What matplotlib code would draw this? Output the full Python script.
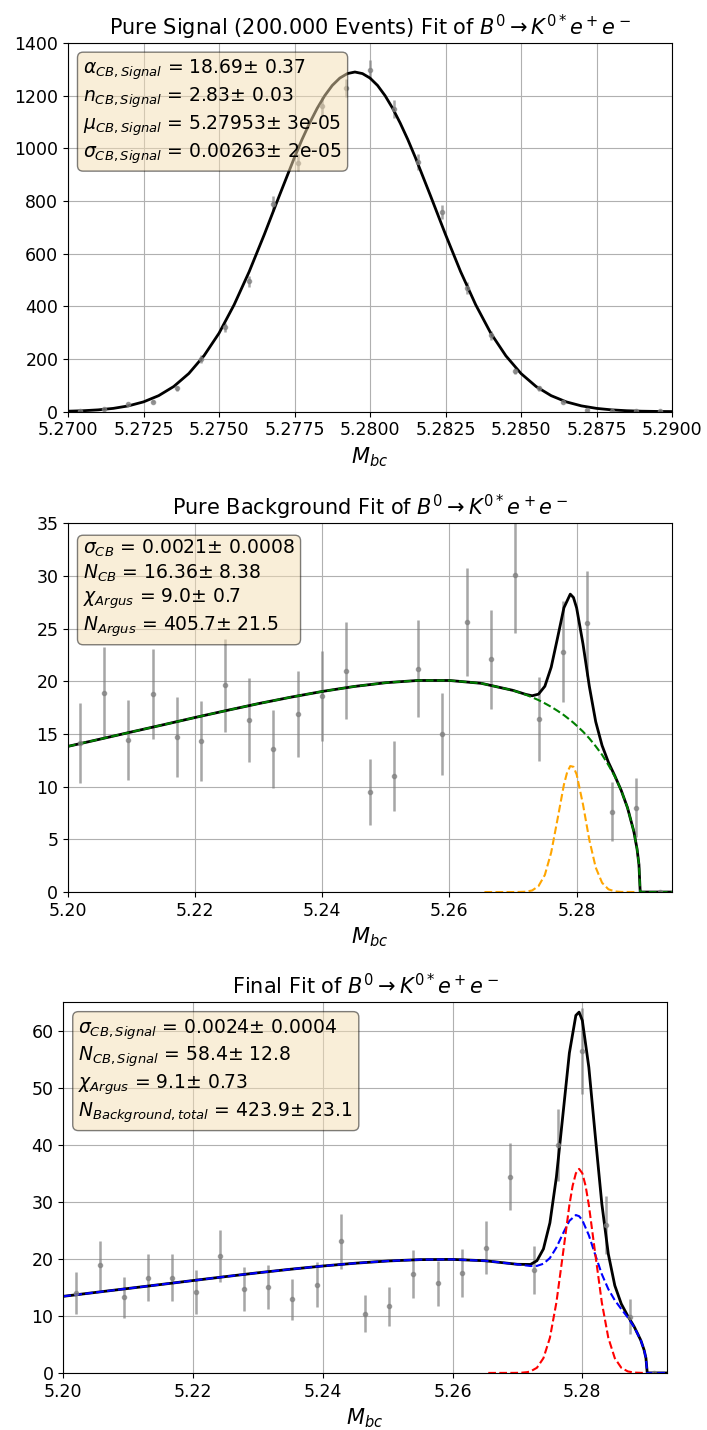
import matplotlib

matplotlib.use("Agg")
import matplotlib.pyplot as plt
from matplotlib.ticker import MultipleLocator

# ---- Panel 1: pure signal ----
sig_x = [5.2704, 5.2712, 5.2720, 5.2728, 5.2736, 5.2744, 5.2752, 5.2760, 5.2768,
         5.2776, 5.2784, 5.2792, 5.2800, 5.2808, 5.2816, 5.2824, 5.2832, 5.2840,
         5.2848, 5.2856, 5.2864, 5.2872, 5.2880, 5.2888, 5.2896]
sig_y = [4, 9, 28, 38, 89, 200, 320, 495, 790, 946, 1162, 1230, 1298, 1150, 949,
         758, 470, 290, 155, 89, 38, 6, 4, 4, 2]
sig_err = [2.0, 3.0, 5.3, 6.2, 9.4, 14.1, 17.9, 22.2, 28.1, 30.8, 34.1, 35.1, 36.0,
           33.9, 30.8, 27.5, 21.7, 17.0, 12.4, 9.4, 6.2, 2.4, 2.0, 2.0, 1.4]

sig_fit_x = [5.2700, 5.2705, 5.2710, 5.2715, 5.2720, 5.2725, 5.2730, 5.2735, 5.2740,
             5.2745, 5.2750, 5.2755, 5.2760, 5.2765, 5.2770, 5.2775, 5.27775, 5.2780,
             5.27825, 5.2785, 5.27875, 5.2790, 5.27925, 5.2795, 5.27975, 5.2800,
             5.28025, 5.2805, 5.28075, 5.2810, 5.28125, 5.2815, 5.2820, 5.2825,
             5.2830, 5.2835, 5.2840, 5.2845, 5.2850, 5.2855, 5.2860, 5.2865, 5.2870,
             5.2875, 5.2880, 5.2885, 5.2890, 5.2895, 5.2900]
sig_fit_y = [1.9, 3.7, 7.0, 12.6, 22.1, 37.3, 60.8, 95.6, 145, 212, 298, 406, 532,
             673, 821, 966, 1034, 1096, 1152, 1200, 1239, 1267, 1284, 1290, 1284,
             1267, 1239, 1200, 1152, 1096, 1034, 966, 821, 673, 532, 406, 298, 212,
             145, 95.6, 60.8, 37.3, 22.1, 12.6, 7.0, 3.7, 1.9, 1.0, 0.5]

sig_text = [r"$\alpha_{CB,Signal}$ = 18.69$\pm$ 0.37",
            r"$n_{CB,Signal}$ = 2.83$\pm$ 0.03",
            r"$\mu_{CB,Signal}$ = 5.27953$\pm$ 3e-05",
            r"$\sigma_{CB,Signal}$ = 0.00263$\pm$ 2e-05"]

# ---- Panel 2: pure background ----
bkg_x = [5.2019, 5.2057, 5.2095, 5.2133, 5.2171, 5.2209, 5.2247, 5.2285, 5.2323,
         5.2361, 5.2399, 5.2437, 5.2475, 5.2513, 5.2551, 5.2589, 5.2627, 5.2665,
         5.2703, 5.2741, 5.2779, 5.2817, 5.2855, 5.2893, 5.2931]
bkg_y = [14.1, 18.9, 14.4, 18.8, 14.7, 14.3, 19.6, 16.3, 13.6, 16.9, 18.6, 21.0, 9.5,
         11.0, 21.2, 15.0, 25.6, 22.1, 30.1, 16.4, 22.8, 25.5, 7.6, 8.0, 0.0]
bkg_err = [3.8, 4.3, 3.8, 4.3, 3.8, 3.8, 4.4, 4.0, 3.7, 4.1, 4.3, 4.6, 3.1, 3.3, 4.6,
           3.9, 5.1, 4.7, 5.5, 4.0, 4.8, 5.0, 2.8, 2.8, 0.0]

bkg_fit_x = [5.200, 5.205, 5.210, 5.215, 5.220, 5.225, 5.230, 5.235, 5.240, 5.245,
             5.250, 5.255, 5.260, 5.265, 5.270, 5.272, 5.273, 5.274, 5.275, 5.276,
             5.277, 5.278, 5.279, 5.2795, 5.280, 5.281, 5.282, 5.283, 5.284, 5.285,
             5.286, 5.287, 5.288, 5.289, 5.2895, 5.2898, 5.290, 5.295]
bkg_argus = [13.82, 14.50, 15.19, 15.87, 16.56, 17.23, 17.88, 18.48, 19.03, 19.50,
             19.86, 20.07, 20.07, 19.80, 19.13, 18.72, 18.47, 18.21, 17.90, 17.57,
             17.19, 16.78, 16.31, 16.06, 15.79, 15.22, 14.57, 13.83, 13.02, 12.05,
             10.97, 9.65, 8.00, 5.74, 4.09, 2.61, 0.0, 0.0]
bkg_total = [13.82, 14.50, 15.19, 15.87, 16.56, 17.23, 17.88, 18.48, 19.03, 19.50,
             19.86, 20.07, 20.07, 19.80, 19.13, 18.75, 18.62, 18.77, 19.52, 21.33,
             24.12, 26.97, 28.26, 27.94, 26.95, 23.53, 19.50, 16.16, 13.90, 12.31,
             11.03, 9.66, 8.00, 5.74, 4.09, 2.61, 0.0, 0.0]

bkg_cb_x = [5.2655, 5.270, 5.271, 5.272, 5.273, 5.274, 5.275, 5.276, 5.277, 5.278,
            5.2785, 5.279, 5.2795, 5.280, 5.281, 5.282, 5.283, 5.284, 5.285, 5.286,
            5.287, 5.2895]
bkg_cb_y = [0.0, 0.0, 0.01, 0.03, 0.15, 0.56, 1.62, 3.76, 6.93, 10.19, 11.35, 11.95,
            11.88, 11.16, 8.31, 4.93, 2.33, 0.88, 0.26, 0.06, 0.01, 0.0]

bkg_text = [r"$\sigma_{CB}$ = 0.0021$\pm$ 0.0008",
            r"$N_{CB}$ = 16.36$\pm$ 8.38",
            r"$\chi_{Argus}$ = 9.0$\pm$ 0.7",
            r"$N_{Argus}$ = 405.7$\pm$ 21.5"]

# ---- Panel 3: final fit ----
fin_x = [5.2019, 5.2056, 5.2093, 5.2130, 5.2167, 5.2205, 5.2242, 5.2279, 5.2316,
         5.2353, 5.2391, 5.2428, 5.2465, 5.2502, 5.2539, 5.2577, 5.2614, 5.2651,
         5.2688, 5.2725, 5.2763, 5.2800, 5.2837, 5.2874, 5.2911]
fin_y = [14.0, 18.9, 13.3, 16.7, 16.7, 14.2, 20.5, 14.7, 15.1, 12.9, 15.5, 23.1, 10.4,
         11.7, 17.4, 15.7, 17.6, 22.0, 34.4, 18.0, 40.0, 56.5, 25.9, 9.9, 0.0]
fin_err = [3.7, 4.3, 3.6, 4.1, 4.1, 3.8, 4.5, 3.8, 3.9, 3.6, 3.9, 4.8, 3.2, 3.4, 4.2,
           4.0, 4.2, 4.7, 5.9, 4.2, 6.3, 7.5, 5.1, 3.1, 0.0]

fin_fit_x = [5.200, 5.205, 5.210, 5.215, 5.220, 5.225, 5.230, 5.235, 5.240, 5.245,
             5.250, 5.255, 5.260, 5.265, 5.270, 5.272, 5.273, 5.274, 5.275, 5.276,
             5.277, 5.278, 5.279, 5.2795, 5.280, 5.281, 5.282, 5.283, 5.284, 5.285,
             5.286, 5.287, 5.288, 5.289, 5.2895, 5.2898, 5.290, 5.293]
fin_bkg = [13.44, 14.13, 14.82, 15.51, 16.21, 16.90, 17.57, 18.19, 18.76, 19.25,
           19.64, 19.88, 19.92, 19.68, 19.05, 18.76, 18.78, 19.16, 20.16, 22.00,
           24.43, 26.68, 27.70, 27.50, 26.79, 24.16, 20.68, 17.33, 14.71, 12.75,
           11.21, 9.73, 8.03, 5.75, 4.09, 2.61, 0.0, 0.0]
fin_total = [13.44, 14.13, 14.82, 15.51, 16.21, 16.90, 17.57, 18.19, 18.76, 19.25,
             19.64, 19.88, 19.92, 19.68, 19.06, 19.03, 19.69, 21.75, 26.33, 34.36,
             45.24, 56.13, 62.73, 63.30, 61.82, 53.61, 41.49, 29.69, 20.88, 15.34,
             12.12, 10.00, 8.09, 5.75, 4.09, 2.61, 0.0, 0.0]

fin_sig_x = [5.2655, 5.2695, 5.2705, 5.2715, 5.272, 5.273, 5.274, 5.275, 5.276, 5.277,
             5.278, 5.2785, 5.279, 5.2795, 5.280, 5.2805, 5.281, 5.282, 5.283, 5.284,
             5.285, 5.286, 5.287, 5.288, 5.2895]
fin_sig_y = [0.0, 0.01, 0.03, 0.14, 0.27, 0.91, 2.59, 6.17, 12.36, 20.81, 29.45,
             32.82, 35.03, 35.8, 35.03, 32.82, 29.45, 20.81, 12.36, 6.17, 2.59, 0.91,
             0.27, 0.06, 0.0]

fin_text = [r"$\sigma_{CB,Signal}$ = 0.0024$\pm$ 0.0004",
            r"$N_{CB,Signal}$ = 58.4$\pm$ 12.8",
            r"$\chi_{Argus}$ = 9.1$\pm$ 0.73",
            r"$N_{Background,total}$ = 423.9$\pm$ 23.1"]

TITLE_DECAY = r"$B^0 \rightarrow K^{0*}e^+e^-$"
BOX = dict(boxstyle="round", facecolor="wheat", alpha=0.5)


def style_axes(ax, title, text_lines):
    ax.set_title(title, fontsize=15)
    ax.set_xlabel(r"$M_{bc}$", fontsize=15)
    ax.tick_params(labelsize=12.5)
    ax.grid(True)
    ax.text(0.025, 0.96, "\n".join(text_lines), transform=ax.transAxes,
            fontsize=13.5, va="top", ha="left", bbox=BOX)


def main() -> None:
    fig = plt.figure(figsize=(7.07, 14.3), dpi=100)

    # Pure signal
    ax1 = fig.add_axes([0.0962, 0.7121, 0.8543, 0.2578])
    ax1.errorbar(sig_x, sig_y, yerr=sig_err, fmt="o", color="grey", markersize=3,
                 elinewidth=1.8, alpha=0.7)
    ax1.plot(sig_fit_x, sig_fit_y, color="black", lw=2)
    ax1.set_xlim(5.27, 5.29)
    ax1.set_ylim(0, 1400)
    ax1.xaxis.set_major_locator(MultipleLocator(0.0025))
    ax1.yaxis.set_major_locator(MultipleLocator(200))
    style_axes(ax1, "Pure Signal (200.000 Events) Fit of " + TITLE_DECAY, sig_text)

    # Pure background
    ax2 = fig.add_axes([0.0962, 0.3762, 0.8543, 0.2580])
    ax2.errorbar(bkg_x, bkg_y, yerr=bkg_err, fmt="o", color="grey", markersize=3,
                 elinewidth=1.8, alpha=0.7)
    ax2.plot(bkg_fit_x, bkg_total, color="black", lw=2)
    ax2.plot(bkg_fit_x, bkg_argus, color="green", ls="--", lw=1.5)
    ax2.plot(bkg_cb_x, bkg_cb_y, color="orange", ls="--", lw=1.5)
    ax2.set_xlim(5.20, 5.295)
    ax2.set_ylim(0, 35)
    ax2.xaxis.set_major_locator(MultipleLocator(0.02))
    ax2.yaxis.set_major_locator(MultipleLocator(5))
    style_axes(ax2, "Pure Background Fit of " + TITLE_DECAY, bkg_text)

    # Final fit
    ax3 = fig.add_axes([0.0895, 0.0399, 0.8535, 0.2591])
    ax3.errorbar(fin_x, fin_y, yerr=fin_err, fmt="o", color="grey", markersize=3,
                 elinewidth=1.8, alpha=0.7)
    ax3.plot(fin_fit_x, fin_total, color="black", lw=2)
    ax3.plot(fin_fit_x, fin_bkg, color="blue", ls="--", lw=1.5)
    ax3.plot(fin_sig_x, fin_sig_y, color="red", ls="--", lw=1.5)
    ax3.set_xlim(5.20, 5.293)
    ax3.set_ylim(0, 65)
    ax3.xaxis.set_major_locator(MultipleLocator(0.02))
    ax3.yaxis.set_major_locator(MultipleLocator(10))
    style_axes(ax3, "Final Fit of " + TITLE_DECAY, fin_text)

    fig.savefig("out.png", dpi=100)


if __name__ == "__main__":
    main()
